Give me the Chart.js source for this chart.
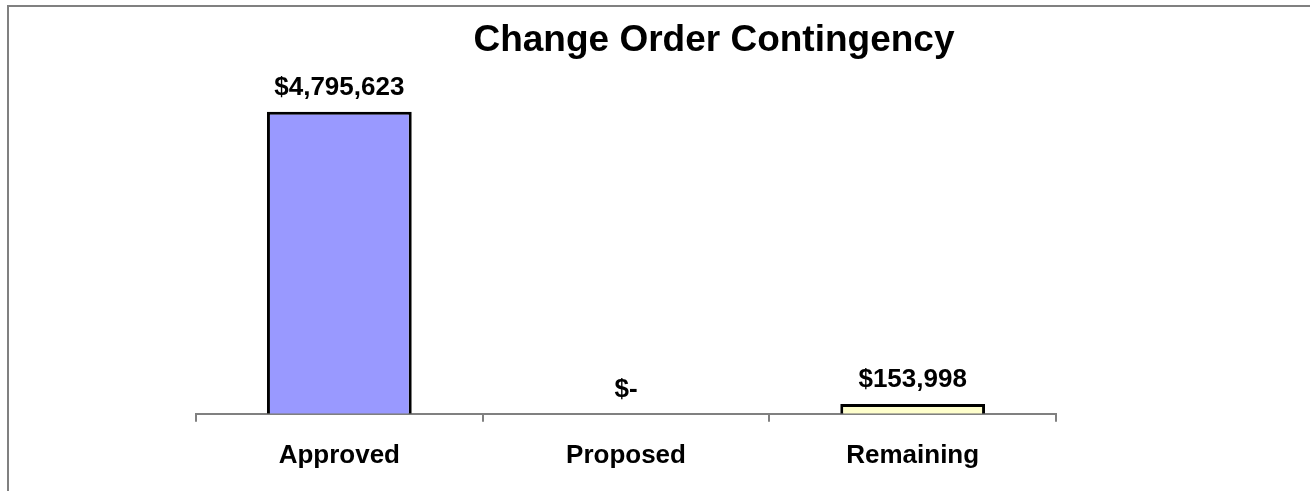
<!DOCTYPE html>
<html>
<head>
<meta charset="utf-8">
<script src="https://cdn.jsdelivr.net/npm/chart.js@4/dist/chart.umd.min.js"></script>
<style>
    body { margin: 0; overflow: hidden; background: #fff; }
    #frame { position: absolute; left: 7px; top: 5px; width: 1340px; height: 520px; border: 2px solid #808080; }
    #wrap { position: absolute; left: 0; top: 0; width: 1310px; height: 491px; }
</style>
</head>
<body>
<div id="frame"></div>
<div id="wrap"><canvas id="myChart"></canvas></div>
<script>
const categories = ["Approved", "Proposed", "Remaining"];
const amounts = [4795623, 0, 153998];
const barColors = ["#9999ff", "#9999ff", "#ffffcc"];
const chartTitle = "Change Order Contingency";

const fontFamily = "'Liberation Sans', Arial, sans-serif";

// title sits a bit right of the plot centre, like the original sheet
const titleText = {
    id: "titleText",
    afterDraw(chart) {
        const ctx = chart.ctx;
        ctx.save();
        ctx.font = "bold 37px " + fontFamily;
        ctx.fillStyle = "#000";
        ctx.textAlign = "center";
        ctx.textBaseline = "alphabetic";
        ctx.fillText(chartTitle, chart.width * 0.545, 51);
        ctx.restore();
    }
};

// write the dollar value above each bar
const valueLabels = {
    id: "valueLabels",
    afterDatasetsDraw(chart) {
        const ctx = chart.ctx;
        const meta = chart.getDatasetMeta(0);
        ctx.save();
        ctx.font = "bold 26px " + fontFamily;
        ctx.fillStyle = "#000";
        ctx.textAlign = "center";
        ctx.textBaseline = "middle";
        meta.data.forEach((bar, i) => {
            const v = amounts[i];
            const txt = v === 0 ? "$-" : "$" + v.toLocaleString("en-US");
            ctx.fillText(txt, bar.x, bar.y - 24);
        });
        ctx.restore();
    }
};

const ctx = document.getElementById("myChart").getContext("2d");

new Chart(ctx, {
    type: "bar",
    data: {
        labels: categories,
        datasets: [{
            data: amounts,
            backgroundColor: barColors,
            borderColor: "#000",
            borderWidth: 3,
            categoryPercentage: 1,
            barPercentage: 0.505
        }]
    },
    options: {
        responsive: true,
        maintainAspectRatio: false,
        animation: false,
        layout: { padding: { left: 196, right: 254, top: 36, bottom: 2 } },
        plugins: {
            legend: { display: false },
            tooltip: { enabled: false },
            title: { display: false }
        },
        scales: {
            x: {
                grid: {
                    offset: true,
                    drawOnChartArea: false,
                    drawTicks: true,
                    tickLength: 8,
                    color: "#808080",
                    lineWidth: 2
                },
                border: { color: "#808080", width: 2 },
                ticks: {
                    color: "#000",
                    padding: 18,
                    font: { family: fontFamily, size: 26, weight: "bold" }
                }
            },
            y: {
                display: false,
                min: 0,
                max: 6000000
            }
        }
    },
    plugins: [valueLabels, titleText]
});
</script>
</body>
</html>
